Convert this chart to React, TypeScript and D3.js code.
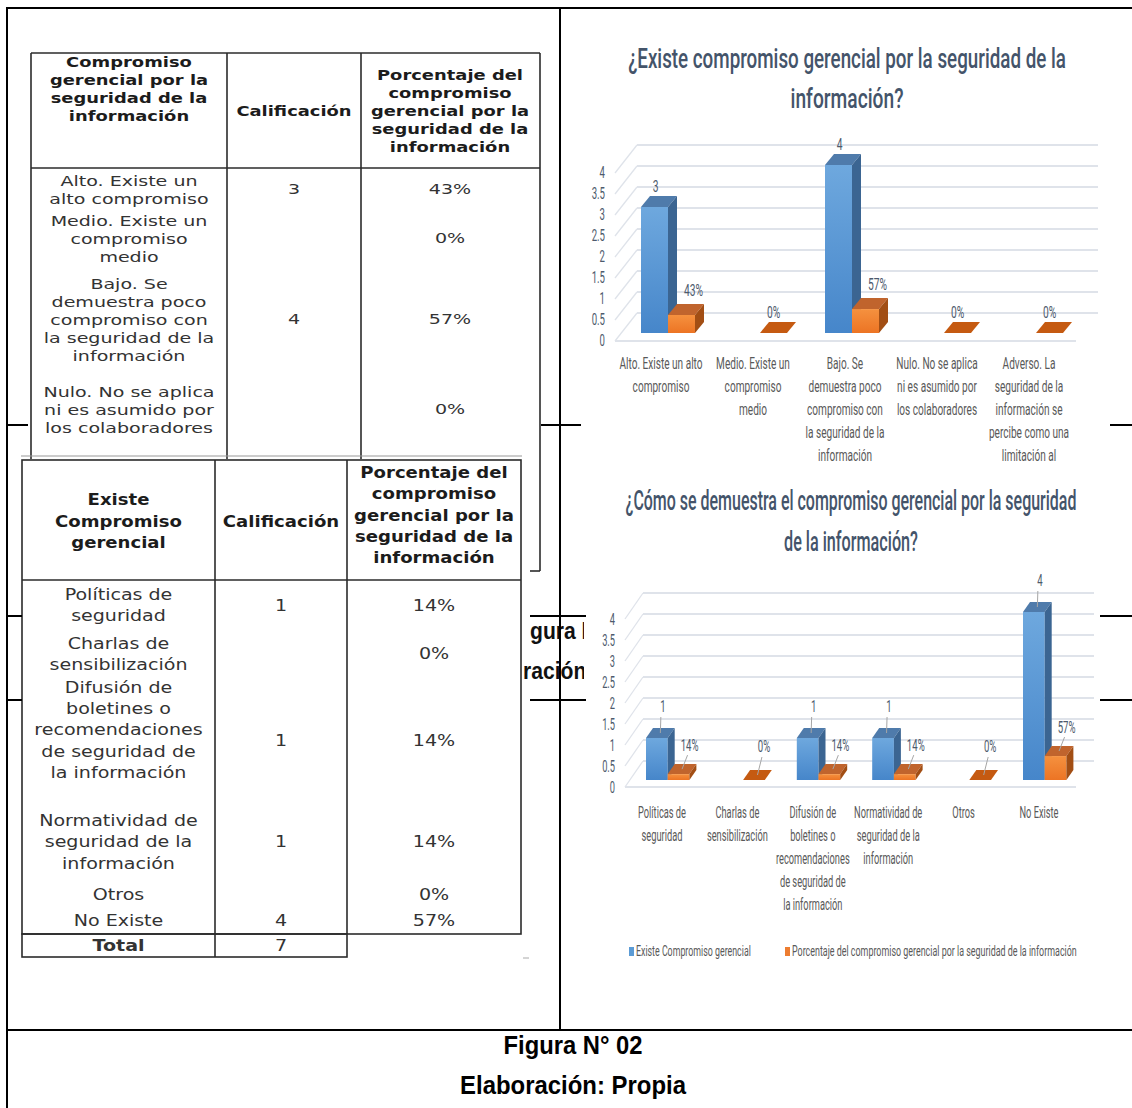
import React, { useLayoutEffect, useRef, useState } from "react";
import * as d3 from "d3";

// ---------------- DATA ----------------
const t1HeadCol1 = ["Compromiso", "gerencial por la", "seguridad de la", "información"];
const t1HeadCol2 = ["Calificación"];
const t1HeadCol3 = ["Porcentaje del", "compromiso", "gerencial por la", "seguridad de la", "información"];
const t1Rows = [
  ["Alto. Existe un", "alto compromiso"],
  ["Medio. Existe un", "compromiso", "medio"],
  ["Bajo. Se", "demuestra poco", "compromiso con", "la seguridad de la", "información"],
  ["Nulo. No se aplica", "ni es asumido por", "los colaboradores"],
];
const t1Scores = ["3", "", "4", ""];
const t1Percents = ["43%", "0%", "57%", "0%"];

const t2HeadCol1 = ["Existe", "Compromiso", "gerencial"];
const t2HeadCol2 = ["Calificación"];
const t2HeadCol3 = ["Porcentaje del", "compromiso", "gerencial por la", "seguridad de la", "información"];
const t2Rows = [
  ["Políticas de", "seguridad"],
  ["Charlas de", "sensibilización"],
  ["Difusión de", "boletines o", "recomendaciones", "de seguridad de", "la información"],
  ["Normatividad de", "seguridad de la", "información"],
  ["Otros"],
  ["No Existe"],
];
const t2Scores = ["1", "", "1", "1", "", "4"];
const t2Percents = ["14%", "0%", "14%", "14%", "0%", "57%"];
const t2TotalLabel = "Total";
const t2Total = "7";

const c1Title = ["¿Existe compromiso gerencial por la seguridad de la", "información?"];
const c1Categories = [
  ["Alto. Existe un alto", "compromiso"],
  ["Medio. Existe un", "compromiso", "medio"],
  ["Bajo. Se", "demuestra poco", "compromiso con", "la seguridad de la", "información"],
  ["Nulo. No se aplica", "ni es asumido por", "los colaboradores"],
  ["Adverso. La", "seguridad de la", "información se", "percibe como una", "limitación al"],
];
const c1Scores: (number | null)[] = [3, null, 4, null, null];
const c1Percents = [0.43, 0, 0.57, 0, 0];

const c2Title = ["¿Cómo se demuestra el compromiso gerencial por la seguridad", "de la información?"];
const c2Categories = [
  ["Políticas de", "seguridad"],
  ["Charlas de", "sensibilización"],
  ["Difusión de", "boletines o", "recomendaciones", "de seguridad de", "la información"],
  ["Normatividad de", "seguridad de la", "información"],
  ["Otros"],
  ["No Existe"],
];
const c2Scores: (number | null)[] = [1, null, 1, 1, null, 4];
const c2Percents = [0.14, 0, 0.14, 0.14, 0, 0.57];

const seriesNames = ["Existe Compromiso gerencial", "Porcentaje del compromiso gerencial por la seguridad de la información"];
const yTicks = [0, 0.5, 1, 1.5, 2, 2.5, 3, 3.5, 4];
const captionLines = ["Figura N° 02", "Elaboración: Propia"];
const strayLines = ["gura N", "ración"];

// ---------------- STYLE ----------------
const W = 1132;
const H = 1108;
const FONT_CHART = "Roboto, 'Open Sans', sans-serif";
const FONT_TABLE = "'DejaVu Sans', Verdana, sans-serif";
const FONT_CAP = "'Liberation Sans', Arial, sans-serif";
const C = {
  title: "#44546a",
  tick: "#4d5a6c",
  label: "#595959",
  dataLabel: "#4d5a6c",
  grid: "#dfe3ea",
  blueTop: "#4f7bab",
  blueSide: "#3b6592",
  orangeTop: "#c0642d",
  orangeSide: "#a24e14",
  orangeZero: "#c55a11",
  border: "#2b2b2b",
};

type STextProps = {
  x: number; y: number; size: number; sx?: number; sy?: number;
  anchor?: "start" | "middle" | "end"; fill?: string; weight?: any; family: string; children: any;
};
function SText({ x, y, size, sx = 1, sy = 1, anchor = "middle", fill = "#222", weight = "normal", family, children }: STextProps) {
  return (
    <text
      transform={`translate(${x},${y}) scale(${sx},${sy})`}
      fontSize={size}
      fontFamily={family}
      fontWeight={weight}
      fill={fill}
      textAnchor={anchor}
      dominantBaseline="central"
    >
      {children}
    </text>
  );
}

// text squeezed horizontally to a measured target width
function FitText({ x, y, width, size, family, weight = "normal", fill = "#222", anchor = "middle", baseline = "auto", children }: any) {
  const ref = useRef<SVGTextElement>(null);
  const [s, setS] = useState(1);
  useLayoutEffect(() => {
    if (ref.current) {
      const l = ref.current.getComputedTextLength();
      if (l > 0) setS(width / l);
    }
  }, [width, children, size]);
  return (
    <text
      ref={ref}
      transform={`translate(${x},${y}) scale(${s},1)`}
      fontSize={size}
      fontFamily={family}
      fontWeight={weight}
      fill={fill}
      textAnchor={anchor}
      dominantBaseline={baseline}
    >
      {children}
    </text>
  );
}

function Lines({ lines, x, cy, lh, ...rest }: any) {
  const n = lines.length;
  return (
    <g>
      {lines.map((l: string, i: number) => (
        <SText key={i} x={x} y={cy + (i - (n - 1) / 2) * lh} {...rest}>
          {l}
        </SText>
      ))}
    </g>
  );
}

// ---------------- TABLE 1 ----------------
function Table1() {
  const L = { x0: 31, x1: 540, top: 53, head: 168, cut: 459, cols: [227, 361], cx: [129, 294, 450], rightExt: 571, footX: 530 };
  const rowCy = [190, 239, 320, 410];
  const head = { family: FONT_TABLE, size: 14, sx: 1.28, weight: "bold", fill: "#1c1c1c" };
  const body = { family: FONT_TABLE, size: 14, sx: 1.36, fill: "#333" };
  return (
    <g>
      <g stroke={C.border} strokeWidth={1.6} fill="none">
        <line x1={L.x0} x2={L.x1} y1={L.top} y2={L.top} />
        <line x1={L.x0} x2={L.x0} y1={L.top} y2={L.cut} />
        <line x1={L.x1} x2={L.x1} y1={L.top} y2={L.rightExt} />
        <line x1={L.footX} x2={L.x1} y1={L.rightExt} y2={L.rightExt} />
        <line x1={L.x0} x2={L.x1} y1={L.head} y2={L.head} />
        {L.cols.map((c) => (
          <line key={c} x1={c} x2={c} y1={L.top} y2={L.cut} />
        ))}
      </g>
      <Lines lines={t1HeadCol1} x={L.cx[0]} cy={89.5} lh={18} {...head} />
      <Lines lines={t1HeadCol2} x={L.cx[1]} cy={111} lh={18} {...head} />
      <Lines lines={t1HeadCol3} x={L.cx[2]} cy={111} lh={18} {...head} />
      {t1Rows.map((r, i) => (
        <g key={i}>
          <Lines lines={r} x={L.cx[0]} cy={rowCy[i]} lh={18} {...body} />
          <SText x={L.cx[1]} y={rowCy[i] - 1} {...body}>{t1Scores[i]}</SText>
          <SText x={L.cx[2]} y={rowCy[i] - 1} {...body}>{t1Percents[i]}</SText>
        </g>
      ))}
      <line x1={21} x2={522} y1={456} y2={456} stroke="#9a9a9a" strokeWidth={1.2} />
    </g>
  );
}

// ---------------- TABLE 2 ----------------
function Table2() {
  const L = { x0: 22, x1: 521, top: 460, head: 580, bottom: 934, total: 957, cols: [215, 347], cx: [118.5, 281, 434] };
  const textCy = [605, 654, 730, 842, 895, 921];
  const valCy = [606, 654, 741, 842, 895, 921];
  const head = { family: FONT_TABLE, size: 16, sx: 1.13, weight: "bold", fill: "#1c1c1c" };
  const body = { family: FONT_TABLE, size: 16, sx: 1.19, fill: "#333" };
  return (
    <g>
      <rect x={L.x0} y={L.top} width={L.x1 - L.x0} height={L.bottom - L.top} fill="#fff" />
      <rect x={L.x0} y={L.bottom} width={L.cols[1] - L.x0} height={L.total - L.bottom} fill="#fff" />
      <g stroke={C.border} strokeWidth={1.6} fill="none">
        <rect x={L.x0} y={L.top} width={L.x1 - L.x0} height={L.bottom - L.top} />
        <rect x={L.x0} y={L.bottom} width={L.cols[1] - L.x0} height={L.total - L.bottom} />
        <line x1={L.x0} x2={L.x1} y1={L.head} y2={L.head} />
        <line x1={L.cols[0]} x2={L.cols[0]} y1={L.top} y2={L.total} />
        <line x1={L.cols[1]} x2={L.cols[1]} y1={L.top} y2={L.bottom} />
      </g>
      <Lines lines={t2HeadCol1} x={L.cx[0]} cy={521} lh={21.5} {...head} />
      <Lines lines={t2HeadCol2} x={L.cx[1]} cy={521} lh={21.5} {...head} />
      <Lines lines={t2HeadCol3} x={L.cx[2]} cy={515} lh={21.3} {...head} />
      {t2Rows.map((r, i) => (
        <g key={i}>
          <Lines lines={r} x={L.cx[0]} cy={textCy[i]} lh={21.2} {...body} />
          <SText x={L.cx[1]} y={valCy[i]} {...body}>{t2Scores[i]}</SText>
          <SText x={L.cx[2]} y={valCy[i]} {...body}>{t2Percents[i]}</SText>
        </g>
      ))}
      <SText x={L.cx[0]} y={946} {...body} weight="bold">{t2TotalLabel}</SText>
      <SText x={L.cx[1]} y={946} {...body}>{t2Total}</SText>
      <line x1={523} x2={529} y1={958} y2={958} stroke="#aaa" strokeWidth={1} />
    </g>
  );
}

// ---------------- 3D BAR CHART ----------------
type Cfg = {
  titleCx: number; titleY: number[]; titleW: number[]; titleSize: number;
  axisX: number; frontRange: [number, number]; barRange: [number, number];
  floorX: [number, number]; back: [number, number];
  groupStart: number; step: number; barW: number; depth: [number, number];
  labelDx: number; labelY0: number; labelLH: number; labelSx: number;
  blueLab: [number, number]; orangeLab: [number, number]; zeroLab: [number, number];
  leaders: boolean; tickSx: number; dataSx: number;
};

function Chart3D({ cfg, title, categories, scores, percents, legend }: any) {
  const c: Cfg = cfg;
  const n = categories.length;
  const xBand = d3
    .scaleBand<number>()
    .domain(d3.range(n))
    .range([c.groupStart, c.groupStart + c.step * n])
    .padding(0);
  const xSeries = d3.scaleBand<number>().domain([0, 1]).range([0, c.barW * 2]).padding(0);
  const yFront = d3.scaleLinear().domain([0, 4]).range(c.frontRange);
  const yBar = d3.scaleLinear().domain([0, 4]).range(c.barRange);
  const [bdx, bdy] = c.back;
  const [ddx, ddy] = c.depth;
  const pct = d3.format(".0%");
  const num = d3.format("d");
  const base = yBar(0);

  const bar = (x: number, v: number, kind: "blue" | "orange", key: string) => {
    const w = xSeries.bandwidth();
    const top = yBar(v);
    const topPts = [
      [x, top], [x + ddx, top + ddy], [x + w + ddx, top + ddy], [x + w, top],
    ].map((p) => p.join(",")).join(" ");
    if (v === 0) {
      return <polygon key={key} points={topPts} fill={C.orangeZero} />;
    }
    const sidePts = [
      [x + w, top], [x + w + ddx, top + ddy], [x + w + ddx, base + ddy], [x + w, base],
    ].map((p) => p.join(",")).join(" ");
    return (
      <g key={key}>
        <rect x={x} y={top} width={w} height={base - top} fill={kind === "blue" ? "url(#blueFront)" : "url(#orangeFront)"} />
        <polygon points={topPts} fill={kind === "blue" ? C.blueTop : C.orangeTop} />
        <polygon points={sidePts} fill={kind === "blue" ? C.blueSide : C.orangeSide} />
      </g>
    );
  };

  const dataLabel = (x: number, y: number, text: string, key: string, tx: number, ty: number) => (
    <g key={key}>
      {c.leaders && (
        <line x1={tx} y1={ty} x2={x - 2} y2={y + 10} stroke="#a6a6a6" strokeWidth={1} />
      )}
      <SText x={x} y={y} size={16} sx={c.dataSx} family={FONT_CHART} fill={C.dataLabel}>{text}</SText>
    </g>
  );

  return (
    <g>
      {title.map((t: string, i: number) => (
        <FitText
          key={i}
          x={c.titleCx}
          y={c.titleY[i]}
          width={c.titleW[i]}
          size={c.titleSize}
          family={FONT_CHART}
          weight={500}
          fill={C.title}
        >
          {t}
        </FitText>
      ))}
      {/* walls */}
      <g stroke={C.grid} fill="none">
        {yTicks.map((v) => (
          <g key={v}>
            <line x1={c.floorX[0] + bdx} x2={c.floorX[1] + bdx} y1={yFront(v) + bdy} y2={yFront(v) + bdy} strokeWidth={2} />
            <line x1={c.floorX[0]} x2={c.floorX[0] + bdx} y1={yFront(v)} y2={yFront(v) + bdy} strokeWidth={1.3} />
          </g>
        ))}
        <line x1={c.floorX[0]} x2={c.floorX[1]} y1={yFront(0)} y2={yFront(0)} strokeWidth={2} />
      </g>
      {yTicks.map((v) => (
        <SText key={v} x={c.axisX} y={yFront(v)} size={16} sx={c.tickSx} anchor="end" family={FONT_CHART} fill={C.tick}>
          {String(v)}
        </SText>
      ))}
      {/* bars */}
      {categories.map((_: any, i: number) => {
        const gx = xBand(i)!;
        const bx = gx + xSeries(0)!;
        const ox = gx + xSeries(1)!;
        const s = scores[i];
        const p = percents[i];
        return (
          <g key={i}>
            {s != null && bar(bx, s, "blue", "b")}
            {bar(ox, p, "orange", "o")}
          </g>
        );
      })}
      {/* data labels */}
      {categories.map((_: any, i: number) => {
        const gx = xBand(i)!;
        const w = xSeries.bandwidth();
        const bcx = gx + xSeries(0)! + w / 2;
        const ocx = gx + xSeries(1)! + w / 2;
        const s = scores[i];
        const p = percents[i];
        const out: any[] = [];
        if (s != null) {
          out.push(
            dataLabel(bcx + c.blueLab[0], yBar(s) + c.blueLab[1], num(s), "bl", bcx + ddx / 2, yBar(s) + ddy / 2)
          );
        }
        const off = p === 0 ? c.zeroLab : c.orangeLab;
        out.push(dataLabel(ocx + off[0], yBar(p) + off[1], pct(p), "ol", ocx + ddx / 2, yBar(p) + ddy / 2));
        return <g key={i}>{out}</g>;
      })}
      {/* category labels */}
      {categories.map((lines: string[], i: number) => (
        <g key={i}>
          {lines.map((l, j) => (
            <SText key={j} x={xBand(i)! + c.labelDx} y={c.labelY0 + j * c.labelLH} size={16} sx={c.labelSx} family={FONT_CHART} fill={C.label}>
              {l}
            </SText>
          ))}
        </g>
      ))}
      {legend && (
        <g>
          <rect x={629} y={947} width={5} height={9} fill="#5b9bd5" />
          <FitText x={636} y={951.5} width={115} size={15} family={FONT_CHART} fill={C.label} anchor="start" baseline="central">
            {seriesNames[0]}
          </FitText>
          <rect x={785} y={947} width={5} height={9} fill="#ed7d31" />
          <FitText x={792} y={951.5} width={285} size={15} family={FONT_CHART} fill={C.label} anchor="start" baseline="central">
            {seriesNames[1]}
          </FitText>
        </g>
      )}
    </g>
  );
}

const cfg1: Cfg = {
  titleCx: 847, titleY: [68, 108], titleW: [438, 113], titleSize: 27,
  axisX: 605, frontRange: [341, 173], barRange: [333, 165],
  floorX: [615, 1076], back: [22, -28],
  groupStart: 641, step: 92, barW: 27, depth: [9, -11],
  labelDx: 20, labelY0: 364, labelLH: 22.8, labelSx: 0.63,
  blueLab: [1, -20], orangeLab: [12, -24], zeroLab: [0, -20],
  leaders: false, tickSx: 0.6, dataSx: 0.64,
};
const cfg2: Cfg = {
  titleCx: 851, titleY: [510, 551], titleW: [451, 134], titleSize: 27,
  axisX: 615, frontRange: [787, 619], barRange: [780, 612],
  floorX: [625, 1076], back: [18, -26],
  groupStart: 646, step: 75.4, barW: 21.7, depth: [7, -10],
  labelDx: 16, labelY0: 812, labelLH: 23, labelSx: 0.58,
  blueLab: [6, -31], orangeLab: [11, -29], zeroLab: [10, -33],
  leaders: true, tickSx: 0.58, dataSx: 0.6,
};

// ---------------- APP ----------------
export default function App() {
  const strayStyle = { family: FONT_CAP, size: 24, sx: 0.88, weight: "bold", fill: "#111", anchor: "start" as const };
  return (
    <svg width={W} height={H} viewBox={`0 0 ${W} ${H}`} style={{ position: "absolute", left: 0, top: 0, display: "block" }}>
      <defs>
        <linearGradient id="blueFront" x1="0" y1="0" x2="0" y2="1">
          <stop offset="0" stopColor="#6ea8de" />
          <stop offset="1" stopColor="#4686ca" />
        </linearGradient>
        <linearGradient id="orangeFront" x1="0" y1="0" x2="0" y2="1">
          <stop offset="0" stopColor="#f5913f" />
          <stop offset="1" stopColor="#ec7424" />
        </linearGradient>
        <clipPath id="strayClip">
          <rect x={522} y={600} width={62} height={110} />
        </clipPath>
      </defs>
      <rect width={W} height={H} fill="#fff" />

      <Table1 />
      <Table2 />

      {/* fragments of another caption behind the charts */}
      <g clipPath="url(#strayClip)">
        <SText x={530} y={631} {...strayStyle}>{strayLines[0]}</SText>
        <SText x={523} y={671} {...strayStyle}>{strayLines[1]}</SText>
      </g>
      <g stroke="#000" strokeWidth={2}>
        <line x1={7} x2={28} y1={425} y2={425} />
        <line x1={541} x2={581} y1={425} y2={425} />
        <line x1={1110} x2={1132} y1={425} y2={425} />
        {[616, 700].map((y) => (
          <g key={y}>
            <line x1={7} x2={22} y1={y} y2={y} />
            <line x1={530} x2={586} y1={y} y2={y} />
            <line x1={1100} x2={1132} y1={y} y2={y} />
          </g>
        ))}
      </g>

      {/* chart panels */}
      <rect x={581} y={12} width={528} height={458} fill="#fff" />
      <rect x={586} y={470} width={514} height={505} fill="#fff" />

      <Chart3D cfg={cfg1} title={c1Title} categories={c1Categories} scores={c1Scores} percents={c1Percents} legend={false} />
      <Chart3D cfg={cfg2} title={c2Title} categories={c2Categories} scores={c2Scores} percents={c2Percents} legend={true} />

      {/* frame */}
      <g stroke="#000" strokeWidth={2}>
        <line x1={6} x2={W} y1={8} y2={8} />
        <line x1={7} x2={7} y1={7} y2={H} />
        <line x1={560} x2={560} y1={8} y2={1030} />
        <line x1={6} x2={W} y1={1030} y2={1030} />
      </g>

      {/* caption */}
      <FitText x={573} y={1054} width={139} size={25} family={FONT_CAP} weight="bold" fill="#000">
        {captionLines[0]}
      </FitText>
      <FitText x={573} y={1094} width={226} size={25} family={FONT_CAP} weight="bold" fill="#000">
        {captionLines[1]}
      </FitText>
    </svg>
  );
}
